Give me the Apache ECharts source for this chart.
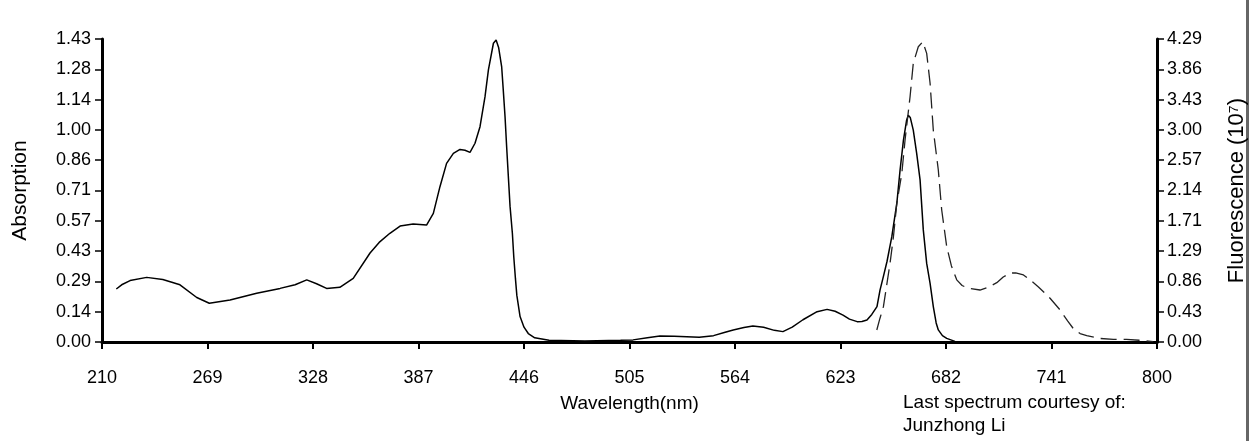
<!DOCTYPE html>
<html>
<head>
	<meta charset="UTF-8">
	<title>Absorption / Fluorescence</title>
	<style>
		html, body { margin: 0; padding: 0; background: #fff; }
		#main-echarts { width: 1258px; height: 441px; }
	</style>
</head>
<body>
<div id="main-echarts"></div>
<script src="https://cdn.jsdelivr.net/npm/echarts@6/dist/echarts.min.js"></script>
<script>
    // x axis ticks (nm)
    var wlTicks = [210, 269, 328, 387, 446, 505, 564, 623, 682, 741, 800];
    // left axis labels (absorption), right axis labels (fluorescence, x10^7)
    var absLabels = ['0.00', '0.14', '0.29', '0.43', '0.57', '0.71', '0.86', '1.00', '1.14', '1.28', '1.43'];
    var fluLabels = ['0.00', '0.43', '0.86', '1.29', '1.71', '2.14', '2.57', '3.00', '3.43', '3.86', '4.29'];
    var absMax = 1.43;
    var fluMax = 4.29;

    // absorption spectrum (solid)
    var absWl = [218, 221, 225.7, 235, 244, 253.6, 263, 270, 281.6, 296.5, 309.6, 318, 324.5, 330, 335.6, 343,
        350.5, 359.9, 365, 371, 376.7, 384, 391.5, 395.3, 399, 402.7, 406.5, 410.2, 413, 415.8, 418.6, 421.4,
        424.2, 426.1, 428.9, 430.4, 431.8, 433.5, 434.4, 435.4, 436.3, 438.2, 439.5, 440.3, 441.2, 442, 443.8,
        446, 448.4, 452, 460, 480, 500, 507, 515, 522, 530, 544, 552, 558, 563, 569, 574, 580, 586, 590.8, 596,
        602, 609.9, 615.5, 620, 624.4, 628, 632.3, 635, 637.8, 640.5, 643.4, 645.1, 647, 649, 651.7, 654.5,
        656.3, 658.2, 660, 660.9, 662, 663.7, 665.6, 667.5, 669.3, 671.2, 673.1, 674.9, 676.5, 677.7, 680,
        682.4, 687];
    var absVal = [0.25, 0.27, 0.29, 0.305, 0.295, 0.27, 0.21, 0.183, 0.198, 0.23, 0.253, 0.27, 0.293, 0.275, 0.253, 0.258,
        0.30, 0.42, 0.47, 0.513, 0.547, 0.557, 0.552, 0.607, 0.733, 0.843, 0.89, 0.909, 0.905, 0.895, 0.938, 1.016,
        1.158, 1.284, 1.41, 1.425, 1.39, 1.30, 1.19, 1.063, 0.92, 0.64, 0.513, 0.40, 0.30, 0.22, 0.12,
        0.07, 0.04, 0.02, 0.008, 0.005, 0.008, 0.01, 0.02, 0.028, 0.027, 0.022, 0.03, 0.045, 0.057, 0.068, 0.076, 0.07, 0.055, 0.049, 0.07,
        0.105, 0.143, 0.154, 0.145, 0.127, 0.108, 0.096, 0.097, 0.104, 0.13, 0.167, 0.245, 0.31, 0.38, 0.497, 0.655,
        0.81, 0.953, 1.048, 1.07, 1.06, 1.0, 0.89, 0.765, 0.529, 0.371, 0.277, 0.167, 0.09, 0.057, 0.03,
        0.017, 0.003];

    // fluorescence spectrum (dashed)
    var fluWl = [643.3, 645, 647, 650.7, 652.6, 654.5, 657.3, 659.1, 661.9, 663.7, 666.5, 669, 671.2, 673.1, 674.9,
        677.7, 679.6, 682.4, 685, 688, 691, 694.5, 701, 706, 710.4, 714, 717.8, 721, 725.3, 730, 733.7, 740.2,
        745.8, 750, 753.2, 757, 760.7, 768, 775.6, 783, 790, 797.9];
    var fluVal = [0.17, 0.33, 0.5, 1.114, 1.49, 1.964, 2.388, 2.86, 3.473, 3.946, 4.18, 4.25, 4.087, 3.663, 3.0,
        2.435, 1.869, 1.349, 1.08, 0.88, 0.8, 0.76, 0.736, 0.78, 0.84, 0.92, 0.975, 0.98, 0.95, 0.86, 0.78, 0.62,
        0.453, 0.3, 0.19, 0.12, 0.09, 0.05, 0.038, 0.038, 0.025, 0.005];

    function pairs(xs, ys) {
        var out = [];
        for (var i = 0; i < xs.length; i++) {
            out.push([xs[i], ys[i]]);
        }
        return out;
    }

    var absTickVals = absLabels.map(function (t, i) { return absMax * i / 10; });
    var fluTickVals = fluLabels.map(function (t, i) { return fluMax * i / 10; });

    var font = 'Arial, "Liberation Sans", sans-serif';
    var axisBlack = { color: '#000', width: 3 };

    var myChart = echarts.init(document.getElementById('main-echarts'), null, { renderer: 'canvas' });
    var option = {
        backgroundColor: '#fff',
        animation: false,
        grid: {
            left: 102,
            right: 101,
            top: 39,
            bottom: 99,
            containLabel: false,
            outerBoundsMode: 'none'
        },
        xAxis: {
            type: 'value',
            min: 210,
            max: 800,
            name: 'Wavelength(nm)',
            nameLocation: 'middle',
            nameGap: 52,
            nameTextStyle: { color: '#000', fontSize: 19, fontFamily: font },
            axisLine: { lineStyle: axisBlack },
            axisTick: { customValues: wlTicks, length: 7, lineStyle: { color: '#000', width: 2 } },
            axisLabel: { customValues: wlTicks, margin: 27, color: '#000', fontSize: 18, fontFamily: font },
            splitLine: { show: false }
        },
        yAxis: [
            {
                type: 'value',
                min: 0,
                max: absMax,
                position: 'left',
                name: 'Absorption',
                nameLocation: 'middle',
                nameRotate: 90,
                nameGap: 71,
                nameTextStyle: { color: '#000', fontSize: 21, fontFamily: font },
                axisLine: { show: true, lineStyle: axisBlack },
                axisTick: { show: true, customValues: absTickVals, length: 7, lineStyle: { color: '#000', width: 1.5 } },
                axisLabel: {
                    customValues: absTickVals,
                    margin: 11,
                    color: '#000',
                    fontSize: 18,
                    fontFamily: font,
                    formatter: function (v) { return absLabels[Math.round(v / (absMax / 10))]; }
                },
                splitLine: { show: false }
            },
            {
                type: 'value',
                min: 0,
                max: fluMax,
                position: 'right',
                name: 'Fluorescence (10⁷)',
                nameLocation: 'middle',
                nameRotate: 90,
                nameGap: 69,
                nameTextStyle: { color: '#000', fontSize: 22, fontFamily: font },
                axisLine: { show: true, lineStyle: axisBlack },
                axisTick: { show: true, customValues: fluTickVals, length: 7, lineStyle: { color: '#000', width: 1.5 } },
                axisLabel: {
                    customValues: fluTickVals,
                    margin: 10,
                    color: '#000',
                    fontSize: 18,
                    fontFamily: font,
                    formatter: function (v) { return fluLabels[Math.round(v / (fluMax / 10))]; }
                },
                splitLine: { show: false }
            }
        ],
        graphic: [
            {
                type: 'text',
                left: 903,
                top: 393,
                style: { text: 'Last spectrum courtesy of:', fill: '#000', fontSize: 19, fontFamily: font }
            },
            {
                type: 'text',
                left: 903,
                top: 416,
                style: { text: 'Junzhong Li', fill: '#000', fontSize: 19, fontFamily: font }
            },
            {
                // scanned page edge
                type: 'rect',
                shape: { x: 1246, y: 0, width: 3, height: 441 },
                style: { fill: '#666' }
            }
        ],
        series: [
            {
                name: 'Absorption',
                type: 'line',
                yAxisIndex: 0,
                showSymbol: false,
                lineStyle: { color: '#000', width: 1.5 },
                data: pairs(absWl, absVal)
            },
            {
                name: 'Fluorescence',
                type: 'line',
                yAxisIndex: 1,
                showSymbol: false,
                lineStyle: { color: '#222', width: 1.3, type: [16, 7] },
                data: pairs(fluWl, fluVal)
            }
        ]
    };
    myChart.setOption(option);
</script>
</body>
</html>
